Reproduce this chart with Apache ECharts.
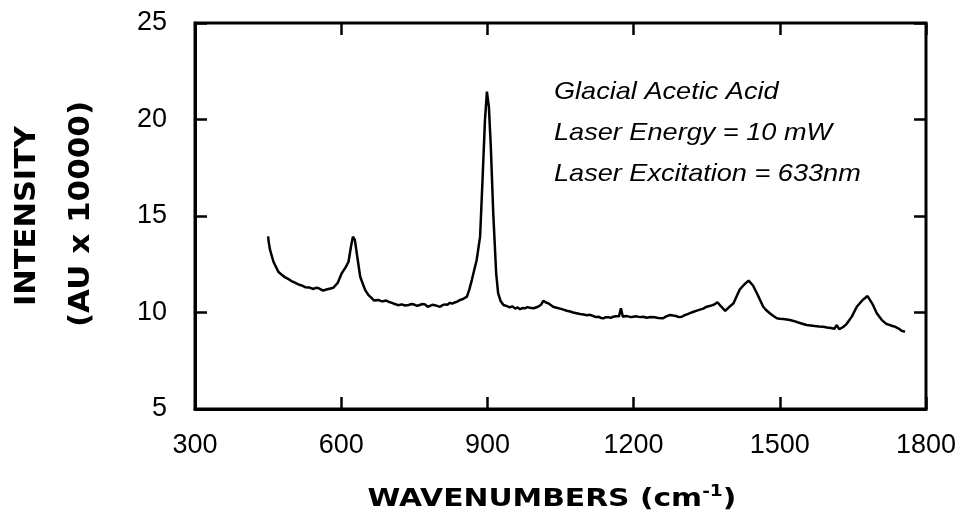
<!DOCTYPE html>
<html>
<head>
<meta charset="utf-8">
<script src="https://cdn.jsdelivr.net/npm/echarts@6/dist/echarts.min.js"></script>
<style>
html, body { margin: 0; padding: 0; background: #fff; }
#chart1 { width: 962px; height: 523px; }
</style>
</head>
<body>
<div id="chart1"></div>
<script>
// Raman spectrum of glacial acetic acid
var wavenumbers = [450, 451, 454, 461, 471, 478, 485, 491, 498, 505, 512, 519, 526, 534, 543, 548, 553,
    558, 563, 568, 574, 584, 593, 601, 609, 615, 620, 624, 628, 633, 639, 649, 656, 663, 667, 670, 676,
    681, 686, 692, 697, 704, 710, 717, 724, 731, 738, 745, 751, 756, 761, 767, 772, 777, 782, 787, 792,
    798, 803, 808, 813, 818, 823, 828, 833, 839, 844, 850, 858, 863, 868, 878, 885, 890, 895, 899, 903,
    907, 912, 918, 922, 927, 933, 940, 946, 951, 957, 962, 967, 972, 977, 982, 987, 995, 1004, 1010,
    1015, 1020, 1025, 1035, 1042, 1049, 1056, 1063, 1070, 1076, 1083, 1090, 1097, 1104, 1111, 1117,
    1123, 1128, 1133, 1138, 1143, 1148, 1153, 1158, 1164, 1170, 1174, 1178, 1184, 1189, 1194, 1199,
    1206, 1213, 1220, 1227, 1235, 1243, 1251, 1260, 1267, 1275, 1281, 1287, 1293, 1299, 1305, 1311,
    1317, 1323, 1330, 1336, 1343, 1350, 1356, 1362, 1367, 1372, 1380, 1388, 1396, 1405, 1418, 1427,
    1436, 1445, 1453, 1466, 1473, 1480, 1487, 1494, 1500, 1507, 1514, 1521, 1530, 1538, 1546, 1555,
    1563, 1572, 1580, 1589, 1597, 1605, 1612, 1617, 1622, 1630, 1637, 1648, 1658, 1670, 1680, 1690,
    1699, 1709, 1719, 1725, 1731, 1737, 1743, 1750, 1757];
var intensity = [13.95, 13.70, 13.24, 12.63, 12.11, 11.95, 11.82, 11.74, 11.63, 11.55, 11.46, 11.40,
    11.31, 11.30, 11.22, 11.28, 11.27, 11.20, 11.13, 11.18, 11.22, 11.28, 11.54, 12.03, 12.34, 12.63,
    13.41, 13.93, 13.76, 12.89, 11.85, 11.17, 10.90, 10.74, 10.62, 10.70, 10.65, 10.60, 10.58, 10.62,
    10.56, 10.50, 10.44, 10.38, 10.42, 10.36, 10.39, 10.44, 10.40, 10.34, 10.39, 10.44, 10.42, 10.30,
    10.34, 10.40, 10.38, 10.33, 10.30, 10.38, 10.42, 10.40, 10.50, 10.46, 10.52, 10.58, 10.65, 10.70,
    10.82, 11.20, 11.68, 12.72, 13.93, 16.87, 19.97, 21.44, 20.67, 18.60, 15.14, 12.03, 11.00, 10.60,
    10.39, 10.33, 10.27, 10.32, 10.20, 10.26, 10.17, 10.23, 10.22, 10.28, 10.25, 10.22, 10.30, 10.40,
    10.61, 10.52, 10.48, 10.30, 10.25, 10.20, 10.15, 10.09, 10.05, 10.00, 9.96, 9.92, 9.90, 9.86, 9.88,
    9.82, 9.76, 9.78, 9.72, 9.70, 9.76, 9.76, 9.72, 9.78, 9.80, 9.80, 10.22, 9.78, 9.82, 9.80, 9.76,
    9.78, 9.80, 9.76, 9.78, 9.73, 9.77, 9.75, 9.72, 9.70, 9.80, 9.87, 9.84, 9.82, 9.76, 9.78, 9.86,
    9.92, 9.98, 10.04, 10.10, 10.15, 10.20, 10.30, 10.34, 10.38, 10.44, 10.53, 10.30, 10.09, 10.28,
    10.48, 11.20, 11.45, 11.65, 11.40, 11.00, 10.30, 10.10, 9.95, 9.82, 9.70, 9.68, 9.66, 9.64, 9.61,
    9.55, 9.48, 9.42, 9.35, 9.33, 9.30, 9.28, 9.26, 9.22, 9.20, 9.16, 9.35, 9.13, 9.25, 9.40, 9.80,
    10.30, 10.65, 10.85, 10.45, 9.96, 9.62, 9.40, 9.36, 9.30, 9.26, 9.18, 9.05, 9.00];

var xTicks = [300, 600, 900, 1200, 1500, 1800];
var yTicks = [5, 10, 15, 20, 25];
var notes = ['Glacial Acetic Acid', 'Laser Energy = 10 mW', 'Laser Excitation = 633nm'];

var spectrum = [];
for (var i = 0; i < wavenumbers.length; i++) {
    spectrum.push([wavenumbers[i], intensity[i]]);
}

var tickStyle = { show: true, inside: true, length: 12, lineStyle: { color: '#000', width: 2.5 } };
var labelStyle = {
    color: '#000', fontFamily: 'Liberation Sans', fontSize: 27,
    formatter: function (value) { return String(value); }
};

var myChart1 = echarts.init(document.getElementById('chart1'));
var option = {
    animation: false,
    grid: {
        left: 195, top: 23, right: 36, bottom: 114,
        show: true, borderColor: '#000', borderWidth: 3
    },
    xAxis: [
        {
            type: 'value',
            min: xTicks[0], max: xTicks[xTicks.length - 1], interval: 300,
            axisLine: { show: true, lineStyle: { color: '#000', width: 3 } },
            axisTick: tickStyle,
            axisLabel: Object.assign({ margin: 23 }, labelStyle),
            splitLine: { show: false }
        },
        {
            type: 'value', position: 'top',
            min: xTicks[0], max: xTicks[xTicks.length - 1], interval: 300,
            axisLine: { show: false },
            axisTick: tickStyle,
            axisLabel: { show: false },
            splitLine: { show: false }
        }
    ],
    yAxis: [
        {
            type: 'value',
            min: yTicks[0], max: yTicks[yTicks.length - 1], interval: 5,
            axisLine: { show: true, lineStyle: { color: '#000', width: 3 } },
            axisTick: tickStyle,
            axisLabel: Object.assign({ margin: 28 }, labelStyle),
            splitLine: { show: false }
        },
        {
            type: 'value', position: 'right',
            min: yTicks[0], max: yTicks[yTicks.length - 1], interval: 5,
            axisLine: { show: false },
            axisTick: tickStyle,
            axisLabel: { show: false },
            splitLine: { show: false }
        }
    ],
    series: [
        {
            name: 'Intensity',
            type: 'line',
            data: spectrum,
            showSymbol: false,
            smooth: false,
            lineStyle: { color: '#000', width: 2.5 }
        }
    ],
    graphic: [
        {
            type: 'text', x: 27, y: 216, rotation: Math.PI / 2, scaleX: 1.05,
            style: { text: 'INTENSITY', fontFamily: 'DejaVu Sans', fontWeight: 'bold', fontSize: 29,
                fill: '#000', align: 'center', verticalAlign: 'middle' }
        },
        {
            type: 'text', x: 81, y: 214, rotation: Math.PI / 2, scaleX: 1.07,
            style: { text: '(AU x 10000)', fontFamily: 'DejaVu Sans', fontWeight: 'bold', fontSize: 29,
                fill: '#000', align: 'center', verticalAlign: 'middle' }
        },
        {
            type: 'text', x: 552, y: 500, scaleX: 1.24,
            style: {
                text: '{m|WAVENUMBERS (cm}{s|-1}{m|)}',
                align: 'center', verticalAlign: 'middle', fill: '#000',
                rich: {
                    m: { fontFamily: 'DejaVu Sans', fontWeight: 'bold', fontSize: 24, lineHeight: 30 },
                    s: { fontFamily: 'DejaVu Sans', fontWeight: 'bold', fontSize: 15, lineHeight: 15, verticalAlign: 'top' }
                }
            }
        },
        {
            type: 'text', x: 554, y: 92, scaleX: 1.13,
            style: { text: notes[0], fontFamily: 'Liberation Sans', fontStyle: 'italic', fontSize: 24,
                fill: '#000', align: 'left', verticalAlign: 'middle' }
        },
        {
            type: 'text', x: 554, y: 133, scaleX: 1.13,
            style: { text: notes[1], fontFamily: 'Liberation Sans', fontStyle: 'italic', fontSize: 24,
                fill: '#000', align: 'left', verticalAlign: 'middle' }
        },
        {
            type: 'text', x: 554, y: 174, scaleX: 1.13,
            style: { text: notes[2], fontFamily: 'Liberation Sans', fontStyle: 'italic', fontSize: 24,
                fill: '#000', align: 'left', verticalAlign: 'middle' }
        }
    ]
};
myChart1.setOption(option);
</script>
</body>
</html>
